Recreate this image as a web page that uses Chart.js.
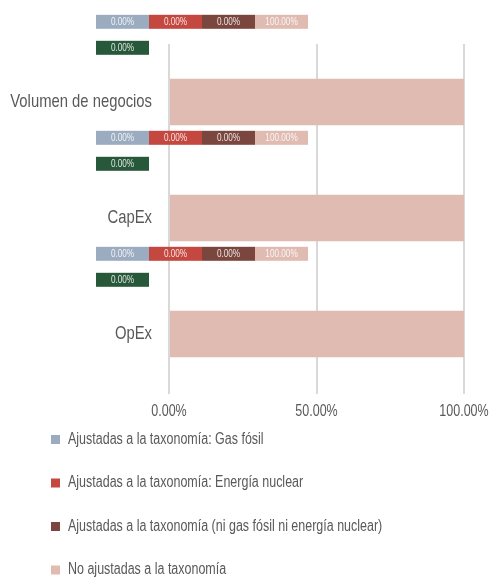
<!DOCTYPE html>
<html>
<head>
<meta charset="utf-8">
<script src="https://cdn.jsdelivr.net/npm/chart.js@4/dist/chart.umd.min.js"></script>
<style>
  html, body { margin: 0; padding: 0; background: #ffffff; }
  #wrap { width: 489px; height: 578px; position: relative; }
</style>
</head>
<body>
<div id="wrap"><canvas id="taxChart"></canvas></div>
<script>
// datos del gráfico
const categories = ["Volumen de negocios", "CapEx", "OpEx"];
const gasFosil = [0, 0, 0];
const energiaNuclear = [0, 0, 0];
const niGasNiNuclear = [0, 0, 0];
const noAjustadas = [100, 100, 100];
const totalAjustadas = [0, 0, 0]; // etiqueta verde bajo cada fila
const xTicks = [0, 50, 100];

const seriesLabels = [
  "Ajustadas a la taxonomía: Gas fósil",
  "Ajustadas a la taxonomía: Energía nuclear",
  "Ajustadas a la taxonomía (ni gas fósil ni energía nuclear)",
  "No ajustadas a la taxonomía"
];
const seriesColors = ["#9bacc0", "#c4483f", "#7a463e", "#e0bbb2"];
const totalColor = "#28583a";

const FONT = "'Liberation Sans', Arial, sans-serif";
const textColor = "#595959";

// no hay fuente estrecha instalada -> se comprime el texto en horizontal
const NARROW = 0.78;
const canvas = document.getElementById("taxChart");
const ctx2d = canvas.getContext("2d");
const baseFill = ctx2d.fillText;
const baseMeasure = ctx2d.measureText;
ctx2d.fillText = function (text, x, y) {
  this.save();
  this.translate(x, y);
  this.scale(NARROW, 1);
  baseFill.call(this, text, 0, 0);
  this.restore();
};
ctx2d.measureText = function (text) {
  const m = baseMeasure.call(this, text);
  return {
    width: m.width * NARROW,
    actualBoundingBoxAscent: m.actualBoundingBoxAscent,
    actualBoundingBoxDescent: m.actualBoundingBoxDescent,
    actualBoundingBoxLeft: m.actualBoundingBoxLeft * NARROW,
    actualBoundingBoxRight: m.actualBoundingBoxRight * NARROW
  };
};

// etiquetas de datos en cajas de color (encima de cada barra)
const boxLabels = {
  id: "boxLabels",
  afterDatasetsDraw(chart) {
    const ctx = chart.ctx;
    const area = chart.chartArea;
    const barMeta = chart.getDatasetMeta(3);
    const boxW = 53;
    const boxH = 14;
    const startX = area.left - 73;

    ctx.save();
    ctx.font = "10.5px " + FONT;
    ctx.textAlign = "center";
    ctx.textBaseline = "middle";

    categories.forEach((cat, i) => {
      const bar = barMeta.data[i];
      const barTop = bar.y - bar.height / 2;
      const rowY = barTop - 57;
      const greenY = barTop - 31;

      chart.data.datasets.forEach((ds, d) => {
        const x = startX + d * boxW;
        ctx.fillStyle = ds.backgroundColor;
        ctx.fillRect(x, rowY - boxH / 2, boxW, boxH);
        ctx.fillStyle = "rgba(255,255,255,0.85)";
        ctx.fillText(ds.data[i].toFixed(2) + "%", x + boxW / 2, rowY + 0.5);
      });

      ctx.fillStyle = totalColor;
      ctx.fillRect(startX, greenY - boxH / 2, boxW, boxH);
      ctx.fillStyle = "rgba(255,255,255,0.85)";
      ctx.fillText(totalAjustadas[i].toFixed(2) + "%", startX + boxW / 2, greenY + 0.5);
    });
    ctx.restore();
  }
};

// leyenda: se coloca a mano bajo el eje
const legendPlace = {
  id: "legendPlace",
  afterLayout(chart) {
    const lg = chart.legend;
    lg.left = 23.5;
    lg.top = 404;
    lg.bottom = 578;
    lg.height = lg.bottom - lg.top;
  }
};

const seriesData = [gasFosil, energiaNuclear, niGasNiNuclear, noAjustadas];

new Chart(canvas, {
  type: "bar",
  data: {
    labels: categories,
    datasets: seriesData.map((values, i) => ({
      label: seriesLabels[i],
      data: values,
      backgroundColor: seriesColors[i],
      borderWidth: 0,
      barPercentage: 0.4,
      categoryPercentage: 1
    }))
  },
  options: {
    indexAxis: "y",
    responsive: true,
    maintainAspectRatio: false,
    animation: false,
    layout: {
      padding: { top: 44, left: 5, right: 25, bottom: 0 }
    },
    plugins: {
      legend: {
        position: "bottom",
        align: "start",
        maxHeight: 158,
        labels: {
          color: textColor,
          boxWidth: 9,
          boxHeight: 9,
          padding: 27.5,
          font: { family: FONT, size: 16 }
        }
      },
      tooltip: { enabled: false }
    },
    scales: {
      x: {
        stacked: true,
        min: 0,
        max: 100,
        afterBuildTicks: (scale) => {
          scale.ticks = xTicks.map((v) => ({ value: v }));
        },
        afterFit: (scale) => {
          scale.height = 28;
          scale.paddingLeft = 0;
          scale.paddingRight = 0;
        },
        ticks: {
          color: textColor,
          padding: 8,
          font: { family: FONT, size: 16 },
          callback: (v) => Number(v).toFixed(2) + "%"
        },
        grid: {
          color: "#d9d9d9",
          lineWidth: 2,
          tickLength: 2
        },
        border: { display: false }
      },
      y: {
        stacked: true,
        afterFit: (scale) => { scale.width = 164; },
        ticks: {
          color: textColor,
          padding: 17,
          font: { family: FONT, size: 19 }
        },
        grid: { display: false, drawTicks: false },
        border: { display: false }
      }
    }
  },
  plugins: [boxLabels, legendPlace]
});
</script>
</body>
</html>
